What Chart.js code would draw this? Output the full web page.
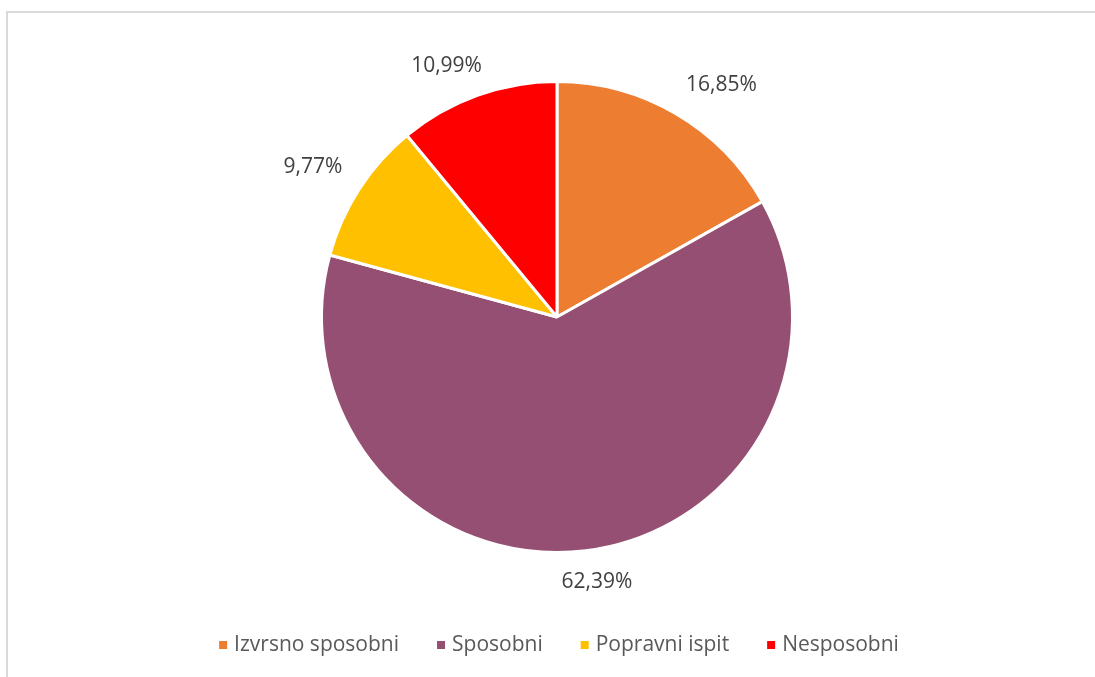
<!DOCTYPE html>
<html>
<head>
<meta charset="utf-8">
<script src="https://cdn.jsdelivr.net/npm/chart.js@4.4.1/dist/chart.umd.min.js"></script>
<style>
  html, body { margin: 0; padding: 0; background: #fff; overflow: hidden; }
  #frame { position: absolute; left: 6px; top: 11px; width: 1200px; height: 800px; border: 2px solid #d9d9d9; }
  #wrap { position: absolute; left: 0; top: 0; width: 1095px; height: 677px; }
</style>
</head>
<body>
<div id="frame"></div>
<div id="wrap"><canvas id="chart"></canvas></div>
<script>
const categories = ['Izvrsno sposobni', 'Sposobni', 'Popravni ispit', 'Nesposobni'];
const shares = [16.85, 62.39, 9.77, 10.99];
const sliceColors = ['#ED7D31', '#954F72', '#FFC000', '#FF0000'];

const FONT = '"Open Sans", sans-serif';

// percent labels just outside each slice, anchored by their nearest corner
const outsideLabels = {
  id: 'outsideLabels',
  afterDatasetsDraw(chart) {
    const ctx = chart.ctx;
    const meta = chart.getDatasetMeta(0);
    ctx.save();
    ctx.font = '21px ' + FONT;
    ctx.fillStyle = '#404040';
    ctx.textAlign = 'center';
    ctx.textBaseline = 'middle';
    meta.data.forEach((arc, i) => {
      const a = (arc.startAngle + arc.endAngle) / 2;
      const r = arc.outerRadius + 20;
      const px = arc.x + Math.cos(a) * r;
      const py = arc.y + Math.sin(a) * r;
      const txt = shares[i].toFixed(2).replace('.', ',') + '%';
      const w = ctx.measureText(txt).width;
      const h = 22;
      const clamp = v => Math.max(-1, Math.min(1, v));
      const x = px + clamp(Math.cos(a) * 2) * w / 2;
      const y = py + clamp(Math.sin(a) * 2) * h / 2;
      ctx.fillText(txt, x, y);
    });
    ctx.restore();
  }
};

// legend row at the bottom
const bottomLegend = {
  id: 'bottomLegend',
  afterDraw(chart) {
    const ctx = chart.ctx;
    ctx.save();
    ctx.font = '21px ' + FONT;
    ctx.textBaseline = 'middle';
    const box = 8, gapText = 7, gapItem = 38;
    const widths = categories.map(c => ctx.measureText(c).width);
    const total = widths.reduce((s, w) => s + box + gapText + w, 0) + gapItem * (categories.length - 1);
    let x = 559 - total / 2;
    const y = 645;
    categories.forEach((c, i) => {
      ctx.fillStyle = sliceColors[i];
      ctx.fillRect(x, y - box / 2, box, box);
      x += box + gapText;
      ctx.fillStyle = '#595959';
      ctx.fillText(c, x, y);
      x += widths[i] + gapItem;
    });
    ctx.restore();
  }
};

new Chart(document.getElementById('chart'), {
  type: 'pie',
  data: {
    labels: categories,
    datasets: [{
      data: shares,
      backgroundColor: sliceColors,
      borderColor: '#ffffff',
      borderWidth: 3,
      hoverOffset: 0
    }]
  },
  options: {
    responsive: true,
    maintainAspectRatio: false,
    animation: false,
    events: [],
    layout: { padding: { top: 80, bottom: 123, left: 19, right: 0 } },
    plugins: {
      legend: { display: false },
      tooltip: { enabled: false }
    }
  },
  plugins: [outsideLabels, bottomLegend]
});
</script>
</body>
</html>
